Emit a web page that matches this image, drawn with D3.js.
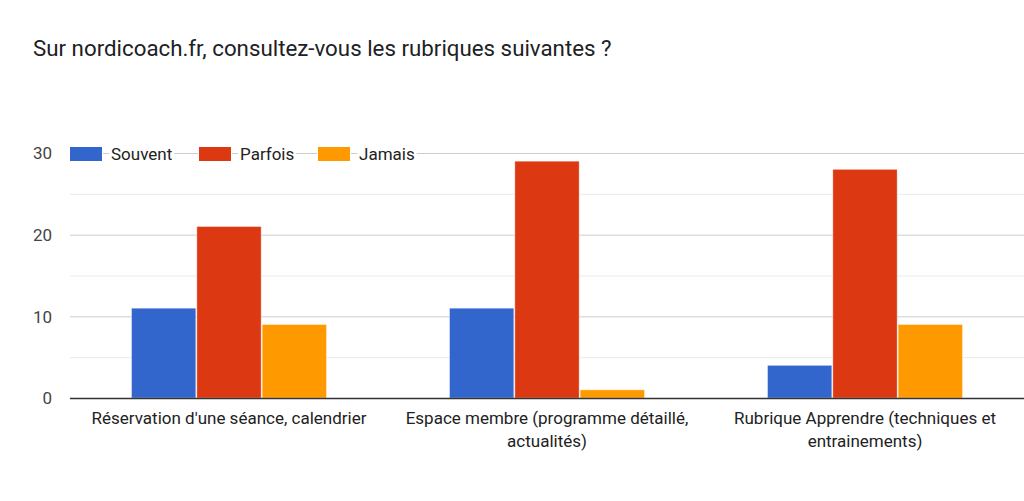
<!DOCTYPE html>
<html><head><meta charset="utf-8">
<script src="https://cdn.jsdelivr.net/npm/d3@7"></script>
<style>body{margin:0;background:#fff}svg{display:block;font-family:Roboto,Arial,sans-serif}</style>
</head><body><svg id="c" width="1024" height="501"></svg>
<script>
const title = "Sur nordicoach.fr, consultez-vous les rubriques suivantes ?";
const categories = [["Réservation d'une séance, calendrier"],["Espace membre (programme détaillé,","actualités)"],["Rubrique Apprendre (techniques et","entrainements)"]];
const seriesNames = ["Souvent","Parfois","Jamais"];
const souvent = [11, 11, 4];
const parfois = [21, 29, 28];
const jamais = [9, 1, 9];
const colors = ["#3366cc","#dc3912","#ff9900"];
const yTicks = [0,10,20,30];
const yMinor = [5,15,25];

const svg = d3.select("#c");
const L = 70, R = 1024, T = 153, B = 398;
const y = d3.scaleLinear().domain([0,30]).range([B,T]);
const x0 = d3.scaleBand().domain(d3.range(categories.length)).range([L,R]).paddingInner(0).paddingOuter(0);
const x1 = d3.scaleBand().domain(d3.range(3)).range([61, x0.bandwidth()-61]).padding(0);
const data = [souvent, parfois, jamais];

svg.append("text").attr("x",33).attr("y",56).attr("font-size",22.3).attr("fill","#202124").text(title);

svg.append("g").selectAll("line").data(yMinor).join("line")
  .attr("x1",L).attr("x2",R).attr("y1",d=>y(d)+0.5).attr("y2",d=>y(d)+0.5)
  .attr("stroke","#ebebeb").attr("stroke-width",1);
svg.append("g").selectAll("line").data(yTicks.filter(d=>d>0)).join("line")
  .attr("x1",L).attr("x2",R).attr("y1",d=>y(d)+0.5).attr("y2",d=>y(d)+0.5)
  .attr("stroke","#cccccc").attr("stroke-width",1);

const yAxis = d3.axisLeft(y).tickValues(yTicks).tickSize(0).tickPadding(0);
const ga = svg.append("g").attr("transform",`translate(${L-18},0)`).call(yAxis);
ga.select(".domain").remove();
ga.selectAll("text").attr("font-size",17).attr("fill","#444").attr("font-family","Roboto,Arial,sans-serif").attr("dy","0.35em");

const groups = svg.append("g").selectAll("g").data(categories).join("g")
  .attr("transform",(d,i)=>`translate(${x0(i)},0)`);
groups.selectAll("rect").data((d,i)=>data.map((s,k)=>({k,v:s[i]}))).join("rect")
  .attr("x",d=>x1(d.k)+0.5).attr("width",x1.bandwidth()-1)
  .attr("y",d=>y(d.v)).attr("height",d=>B-y(d.v))
  .attr("fill",d=>colors[d.k]).attr("stroke","#fff").attr("stroke-opacity",0.5).attr("stroke-width",0.8);

svg.append("line").attr("x1",L).attr("x2",R).attr("y1",B+0.5).attr("y2",B+0.5).attr("stroke","#333").attr("stroke-width",1.5);

groups.append("text").attr("text-anchor","middle").attr("x",x0.bandwidth()/2)
  .attr("font-size",17).attr("fill","#222")
  .selectAll("tspan").data(d=>d).join("tspan")
  .attr("x",x0.bandwidth()/2).attr("y",(d,j)=>424+j*22.5).text(d=>d);

// legend
const legX = [70,199,318];
const lg = svg.append("g").selectAll("g").data(seriesNames).join("g")
  .attr("transform",(d,i)=>`translate(${legX[i]},${y(30)+1})`);
lg.each(function(d,i){
  const g = d3.select(this);
  g.append("rect").attr("x",-1).attr("y",-9).attr("width",34).attr("height",18).attr("fill","#fff");
  g.append("rect").attr("x",0).attr("y",-7).attr("width",32).attr("height",14).attr("fill",colors[i]);
  const t = g.append("text").attr("x",41).attr("y",0).attr("dy","0.35em").attr("font-size",17).attr("fill","#222").text(d);
  const w = t.node().getComputedTextLength();
  g.insert("rect","text").attr("x",39).attr("y",-10).attr("width",w+4).attr("height",20).attr("fill","#fff");
});
</script></body></html>
